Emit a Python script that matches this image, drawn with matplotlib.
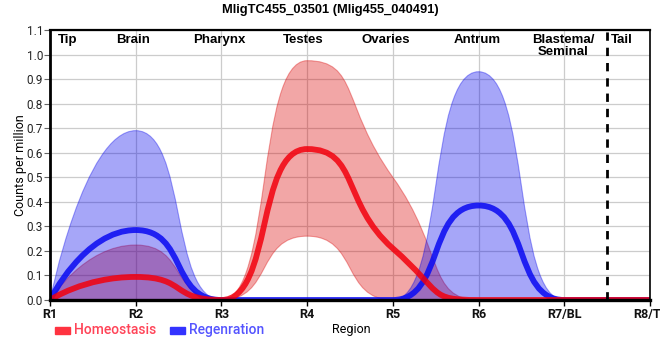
import numpy as np
import matplotlib
matplotlib.use('Agg')
import matplotlib.pyplot as plt
from matplotlib.path import Path
from matplotlib.patches import PathPatch

plt.rcParams['font.family'] = ['Roboto', 'DejaVu Sans']

# ---- data ----
region_pos = [1, 2, 3, 4, 5, 6, 7, 8]
region_labels = ['R1', 'R2', 'R3', 'R4', 'R5', 'R6', 'R7/BL', 'R8/TL']

homeo_mean = [0.0, 0.094, 0.0, 0.615, 0.21, 0.0, 0.0, 0.0]
homeo_upper = [0.0, 0.224, 0.0, 0.975, 0.50, 0.0, 0.0, 0.0]
homeo_lower = [0.0, 0.0, 0.0, 0.26, 0.0, 0.0, 0.0, 0.0]

regen_mean = [0.0, 0.285, 0.0, 0.0, 0.0, 0.385, 0.0, 0.0]
regen_upper = [0.0, 0.69, 0.0, 0.0, 0.0, 0.93, 0.0, 0.0]
regen_lower = [0.0, 0.0, 0.0, 0.0, 0.0, 0.0, 0.0, 0.0]

tissue_names = ['Tip', 'Brain', 'Pharynx', 'Testes', 'Ovaries', 'Antrum',
                'Blastema/\nSeminal', 'Tail']
tissue_pos = [1.2, 1.97, 2.98, 3.95, 4.92, 5.99, 6.99, 7.67]

red_line = (0.95, 0.0, 0.05, 0.85)
blue_line = (0.05, 0.05, 0.95, 0.88)
red_fill = (0.855, 0.0, 0.0, 0.35)
blue_fill = (0.0, 0.0, 0.92, 0.35)

HANDLE = 0.6  # fraction of the segment used for the spline handles


def spline_verts(xs, ys, k=HANDLE):
    '''highcharts-like spline: handles on a line through each point,
    clamped so the curve makes no false extremes'''
    xs = np.asarray(xs, float)
    ys = np.asarray(ys, float)
    n = len(xs)
    left = [None] * n
    right = [None] * n
    for i in range(1, n - 1):
        lx = xs[i] + (xs[i - 1] - xs[i]) * k
        ly = ys[i] + (ys[i - 1] - ys[i]) * k
        rx = xs[i] + (xs[i + 1] - xs[i]) * k
        ry = ys[i] + (ys[i + 1] - ys[i]) * k
        corr = (ry - ly) * (rx - xs[i]) / (rx - lx) + ys[i] - ry
        ly += corr
        ry += corr
        if ly > ys[i - 1] and ly > ys[i]:
            ly = max(ys[i - 1], ys[i]); ry = 2 * ys[i] - ly
        elif ly < ys[i - 1] and ly < ys[i]:
            ly = min(ys[i - 1], ys[i]); ry = 2 * ys[i] - ly
        if ry > ys[i + 1] and ry > ys[i]:
            ry = max(ys[i + 1], ys[i]); ly = 2 * ys[i] - ry
        elif ry < ys[i + 1] and ry < ys[i]:
            ry = min(ys[i + 1], ys[i]); ly = 2 * ys[i] - ry
        left[i] = (lx, ly)
        right[i] = (rx, ry)
    verts = [(xs[0], ys[0])]
    codes = [Path.MOVETO]
    for i in range(1, n):
        c1 = right[i - 1] if right[i - 1] is not None else (xs[i - 1], ys[i - 1])
        c2 = left[i] if left[i] is not None else (xs[i], ys[i])
        verts += [c1, c2, (xs[i], ys[i])]
        codes += [Path.CURVE4] * 3
    return np.array(verts), codes


def draw_band(ax, lower, upper, color):
    up_v, up_c = spline_verts(region_pos, upper)
    lo_v, lo_c = spline_verts(region_pos[::-1], lower[::-1])
    verts = np.vstack([up_v, lo_v, up_v[:1]])
    codes = up_c + [Path.LINETO] + lo_c[1:] + [Path.CLOSEPOLY]
    ax.add_patch(PathPatch(Path(verts, codes), facecolor=color,
                           edgecolor=color, lw=0.8, zorder=1.5))


def draw_line(ax, vals, color):
    v, c = spline_verts(region_pos, vals)
    ax.add_patch(PathPatch(Path(v, c), facecolor='none', edgecolor=color,
                           lw=4.2, zorder=2, capstyle='butt'))


fig = plt.figure(figsize=(6.6, 3.6), dpi=100)
ax = fig.add_axes([50 / 660, 60 / 360, 600 / 660, 270 / 360])
ax.set_xlim(1, 8)
ax.set_ylim(0, 1.1)

draw_band(ax, homeo_lower, homeo_upper, red_fill)
draw_band(ax, regen_lower, regen_upper, blue_fill)
draw_line(ax, regen_mean, blue_line)
draw_line(ax, homeo_mean, red_line)

ax.axvline(7.5, color='black', lw=2, ls=(0, (3, 2.5)), zorder=3)

ax.set_yticks(np.arange(0, 1.11, 0.1))
ax.set_yticklabels([f'{v:.1f}' for v in np.arange(0, 1.11, 0.1)],
                   fontsize=8.5, color='#222222')
ax.set_xticks(region_pos)
ax.set_xticklabels(region_labels, fontsize=9, fontweight='bold', color='#111111')
ax.tick_params(axis='y', length=4, width=0.8, color='#666666', pad=1)
ax.tick_params(axis='x', length=4, width=1, color='black', pad=2)
ax.grid(True, color='#cccccc', lw=0.9, zorder=0)
ax.set_axisbelow(True)

for side, w in [('left', 2), ('bottom', 2.4), ('top', 1.6), ('right', 1.2)]:
    ax.spines[side].set_linewidth(w)
    ax.spines[side].set_color('black')
    ax.spines[side].set_zorder(4)

for name, xp in zip(tissue_names, tissue_pos):
    ax.text(xp, 1.085, name, ha='center', va='top', fontsize=9.5,
            fontweight='bold', family=['Liberation Sans', 'DejaVu Sans'],
            linespacing=1.0)

fig.text(0.5, 0.972, 'MligTC455_03501 (Mlig455_040491)', ha='center', va='center',
         fontsize=9.3, fontweight='bold', family=['Liberation Sans', 'DejaVu Sans'])
ax.set_ylabel('Counts per million', fontsize=9, labelpad=0)
fig.text(351 / 660, 1 - 330 / 360, 'Region', ha='center', va='center', fontsize=9)

# legend drawn by hand at the bottom left
fig.patches.append(plt.Rectangle((55 / 660, 1 - 334 / 360), 15 / 660, 7 / 360,
                                 transform=fig.transFigure, color='#ff3340'))
fig.text(74 / 660, 1 - 330 / 360, 'Homeostasis', ha='left', va='center',
         fontsize=10, fontweight='medium', color='#ff4458')
fig.patches.append(plt.Rectangle((170 / 660, 1 - 334 / 360), 15 / 660, 7 / 360,
                                 transform=fig.transFigure, color='#3333ff'))
fig.text(189 / 660, 1 - 330 / 360, 'Regenration', ha='left', va='center',
         fontsize=10, fontweight='medium', color='#5555ff')

fig.savefig('out.png', dpi=100)
